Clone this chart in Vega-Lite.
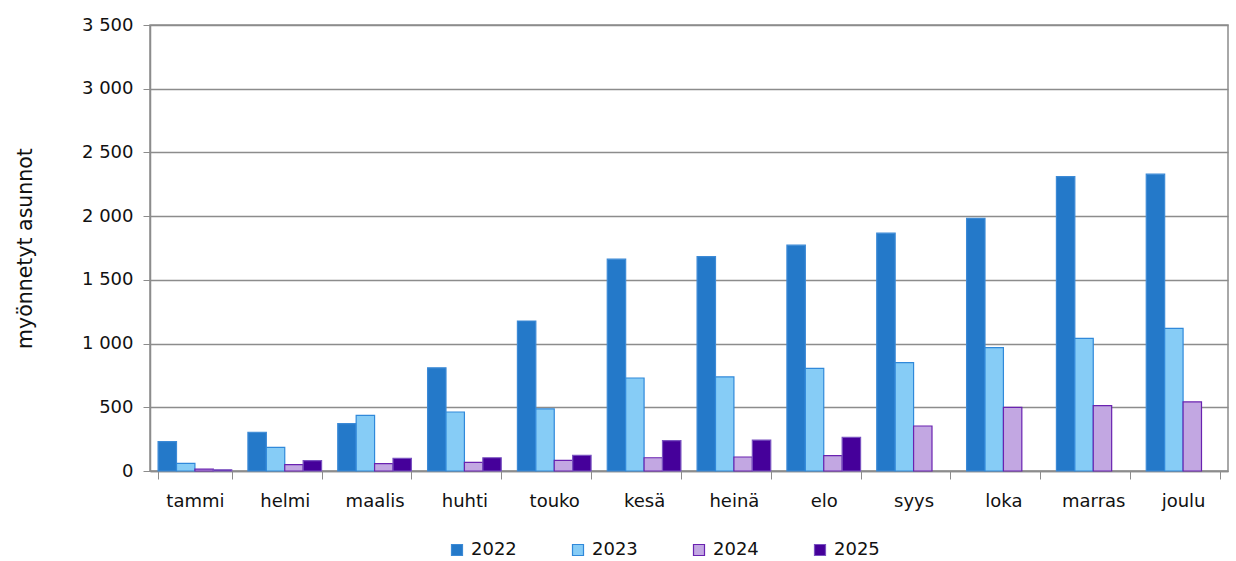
{
  "$schema": "https://vega.github.io/schema/vega-lite/v6.json",
  "width": 1078,
  "height": 446,
  "autosize": "none",
  "padding": {"left": 150, "top": 25, "right": 8, "bottom": 90},
  "background": "white",
  "config": {
    "font": "DejaVu Sans",
    "view": {"stroke": "#8c8c8c", "strokeWidth": 1.5},
    "axis": {"labelFont": "DejaVu Sans", "titleFont": "DejaVu Sans", "labelColor": "#111", "titleColor": "#111"},
    "legend": {"labelFont": "DejaVu Sans", "labelColor": "#111"}
  },
  "data": {
    "values": [
      {"kk": "tammi", "vuosi": "2022", "arvo": 230},
      {"kk": "tammi", "vuosi": "2023", "arvo": 60},
      {"kk": "tammi", "vuosi": "2024", "arvo": 15},
      {"kk": "tammi", "vuosi": "2025", "arvo": 10},
      {"kk": "helmi", "vuosi": "2022", "arvo": 304},
      {"kk": "helmi", "vuosi": "2023", "arvo": 186},
      {"kk": "helmi", "vuosi": "2024", "arvo": 50},
      {"kk": "helmi", "vuosi": "2025", "arvo": 81},
      {"kk": "maalis", "vuosi": "2022", "arvo": 372},
      {"kk": "maalis", "vuosi": "2023", "arvo": 437},
      {"kk": "maalis", "vuosi": "2024", "arvo": 58},
      {"kk": "maalis", "vuosi": "2025", "arvo": 99},
      {"kk": "huhti", "vuosi": "2022", "arvo": 810},
      {"kk": "huhti", "vuosi": "2023", "arvo": 463},
      {"kk": "huhti", "vuosi": "2024", "arvo": 68},
      {"kk": "huhti", "vuosi": "2025", "arvo": 104},
      {"kk": "touko", "vuosi": "2022", "arvo": 1177},
      {"kk": "touko", "vuosi": "2023", "arvo": 487},
      {"kk": "touko", "vuosi": "2024", "arvo": 84},
      {"kk": "touko", "vuosi": "2025", "arvo": 123},
      {"kk": "kesä", "vuosi": "2022", "arvo": 1662},
      {"kk": "kesä", "vuosi": "2023", "arvo": 730},
      {"kk": "kesä", "vuosi": "2024", "arvo": 104},
      {"kk": "kesä", "vuosi": "2025", "arvo": 238},
      {"kk": "heinä", "vuosi": "2022", "arvo": 1682},
      {"kk": "heinä", "vuosi": "2023", "arvo": 738},
      {"kk": "heinä", "vuosi": "2024", "arvo": 110},
      {"kk": "heinä", "vuosi": "2025", "arvo": 243},
      {"kk": "elo", "vuosi": "2022", "arvo": 1772},
      {"kk": "elo", "vuosi": "2023", "arvo": 806},
      {"kk": "elo", "vuosi": "2024", "arvo": 120},
      {"kk": "elo", "vuosi": "2025", "arvo": 264},
      {"kk": "syys", "vuosi": "2022", "arvo": 1866},
      {"kk": "syys", "vuosi": "2023", "arvo": 850},
      {"kk": "syys", "vuosi": "2024", "arvo": 353},
      {"kk": "loka", "vuosi": "2022", "arvo": 1983},
      {"kk": "loka", "vuosi": "2023", "arvo": 968},
      {"kk": "loka", "vuosi": "2024", "arvo": 500},
      {"kk": "marras", "vuosi": "2022", "arvo": 2310},
      {"kk": "marras", "vuosi": "2023", "arvo": 1041},
      {"kk": "marras", "vuosi": "2024", "arvo": 513},
      {"kk": "joulu", "vuosi": "2022", "arvo": 2329},
      {"kk": "joulu", "vuosi": "2023", "arvo": 1120},
      {"kk": "joulu", "vuosi": "2024", "arvo": 542}
    ]
  },
  "mark": {"type": "bar", "strokeWidth": 1.2},
  "encoding": {
    "x": {
      "field": "kk",
      "type": "nominal",
      "sort": ["tammi", "helmi", "maalis", "huhti", "touko", "kesä", "heinä", "elo", "syys", "loka", "marras", "joulu"],
      "scale": {"paddingInner": 0.18, "paddingOuter": 0.09},
      "axis": {
        "title": null,
        "labelAngle": 0,
        "labelFontSize": 18,
        "labelPadding": 13,
        "tickBand": "extent",
        "tickSize": 8,
        "tickColor": "#8c8c8c",
        "domainColor": "#8c8c8c",
        "domainWidth": 1.5,
        "grid": false
      }
    },
    "xOffset": {
      "field": "vuosi",
      "type": "nominal",
      "scale": {"paddingInner": 0, "paddingOuter": 0}
    },
    "y": {
      "field": "arvo",
      "type": "quantitative",
      "scale": {"domain": [0, 3500], "nice": false},
      "axis": {
        "title": "myönnetyt asunnot",
        "titleFontSize": 20.5,
        "titleFontWeight": "normal",
        "titlePadding": 46,
        "labelFontSize": 18,
        "labelPadding": 10,
        "values": [0, 500, 1000, 1500, 2000, 2500, 3000, 3500],
        "labelExpr": "replace(format(datum.value, ',d'), ',', ' ')",
        "tickSize": 7,
        "tickColor": "#8c8c8c",
        "domainColor": "#8c8c8c",
        "domainWidth": 1.5,
        "gridColor": "#8c8c8c",
        "gridWidth": 1.3
      }
    },
    "color": {
      "field": "vuosi",
      "type": "nominal",
      "scale": {"domain": ["2022", "2023", "2024", "2025"], "range": ["#2479C9", "#86CCF6", "#C2A7E2", "#45009A"]},
      "legend": {
        "title": null,
        "orient": "none",
        "direction": "horizontal",
        "legendX": 298,
        "legendY": 516,
        "symbolType": "square",
        "symbolSize": 121,
        "symbolStrokeWidth": 1.2,
        "labelFontSize": 18,
        "labelOffset": 5,
        "columnPadding": 52
      }
    },
    "stroke": {
      "field": "vuosi",
      "type": "nominal",
      "scale": {"domain": ["2022", "2023", "2024", "2025"], "range": ["#3C8AD6", "#3089DA", "#6A22B0", "#7A52C0"]},
      "legend": null
    }
  }
}
